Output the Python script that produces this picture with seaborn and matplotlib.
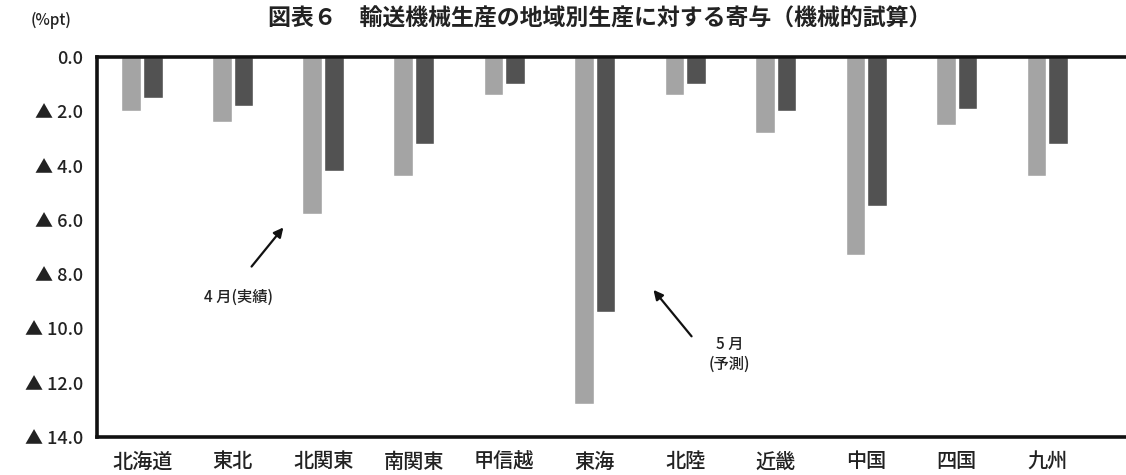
import matplotlib
matplotlib.use("Agg")
import matplotlib.pyplot as plt
import seaborn as sns
import pandas as pd

# Regions and contributions to regional output (%pt), April actual / May forecast
regions = ["北海道", "東北", "北関東", "南関東", "甲信越", "東海",
           "北陸", "近畿", "中国", "四国", "九州"]
april_actual = [-2.0, -2.4, -5.8, -4.4, -1.4, -12.8, -1.4, -2.8, -7.3, -2.5, -4.4]
may_forecast = [-1.5, -1.8, -4.2, -3.2, -1.0, -9.4, -1.0, -2.0, -5.5, -1.9, -3.2]
series_names = ["4月(実績)", "5月(予測)"]
y_ticks = [0, -2, -4, -6, -8, -10, -12, -14]
y_tick_labels = ["0.0", "▲ 2.0", "▲ 4.0", "▲ 6.0", "▲ 8.0",
                 "▲ 10.0", "▲ 12.0", "▲ 14.0"]

sns.set_theme(style="white")
plt.rcParams["font.family"] = ["Noto Sans CJK JP", "DejaVu Sans"]

df = pd.DataFrame({
    "region": regions * 2,
    "value": april_actual + may_forecast,
    "series": [series_names[0]] * len(regions) + [series_names[1]] * len(regions),
})

fig = plt.figure(figsize=(11.26, 4.75), dpi=100)
ax = fig.add_axes([0.086, 0.08, 0.914, 0.80])

sns.barplot(data=df, x="region", y="value", hue="series", order=regions,
            hue_order=series_names, palette=["#a4a4a4", "#525252"],
            width=0.48, gap=0.1, legend=False, ax=ax, saturation=1)

ax.set_xlim(-0.5, 10.87)
ax.set_ylim(-14, 0)
ax.set_yticks(y_ticks)
ax.set_yticklabels(y_tick_labels, fontsize=13, color="#222222",
                   fontweight="medium")
for lbl in ax.get_xticklabels():
    lbl.set_fontweight("medium")
ax.tick_params(axis="x", labelsize=14.5, colors="#222222", length=0, pad=11)
ax.tick_params(axis="y", length=0, pad=10)
ax.set_xlabel("")
ax.set_ylabel("")

for side in ["left", "top", "bottom"]:
    ax.spines[side].set_visible(True)
    ax.spines[side].set_color("#111111")
    ax.spines[side].set_linewidth(2.6)
ax.spines["right"].set_visible(False)

# Callouts for the two series
ax.annotate("", xy=(1.58, -6.2), xytext=(1.19, -7.8),
            arrowprops=dict(arrowstyle="-|>", color="#111111", lw=1.6,
                            mutation_scale=14))
ax.text(1.06, -8.86, "4 月(実績)", ha="center", va="center",
        fontsize=11, color="#222222", fontweight="medium")
ax.annotate("", xy=(5.63, -8.5), xytext=(6.09, -10.37),
            arrowprops=dict(arrowstyle="-|>", color="#111111", lw=1.6,
                            mutation_scale=14))
ax.text(6.49, -10.95, "5 月\n(予測)", ha="center", va="center",
        fontsize=11, color="#222222", linespacing=1.2, fontweight="medium")

fig.text(0.533, 0.96, "図表６　輸送機械生産の地域別生産に対する寄与（機械的試算）",
         ha="center", va="center", fontsize=16.5, color="#222222",
         fontweight="bold")
fig.text(0.027, 0.958, "(%pt)", ha="left", va="center", fontsize=11,
         color="#222222", fontweight="medium")

fig.savefig("out.png", dpi=100)
